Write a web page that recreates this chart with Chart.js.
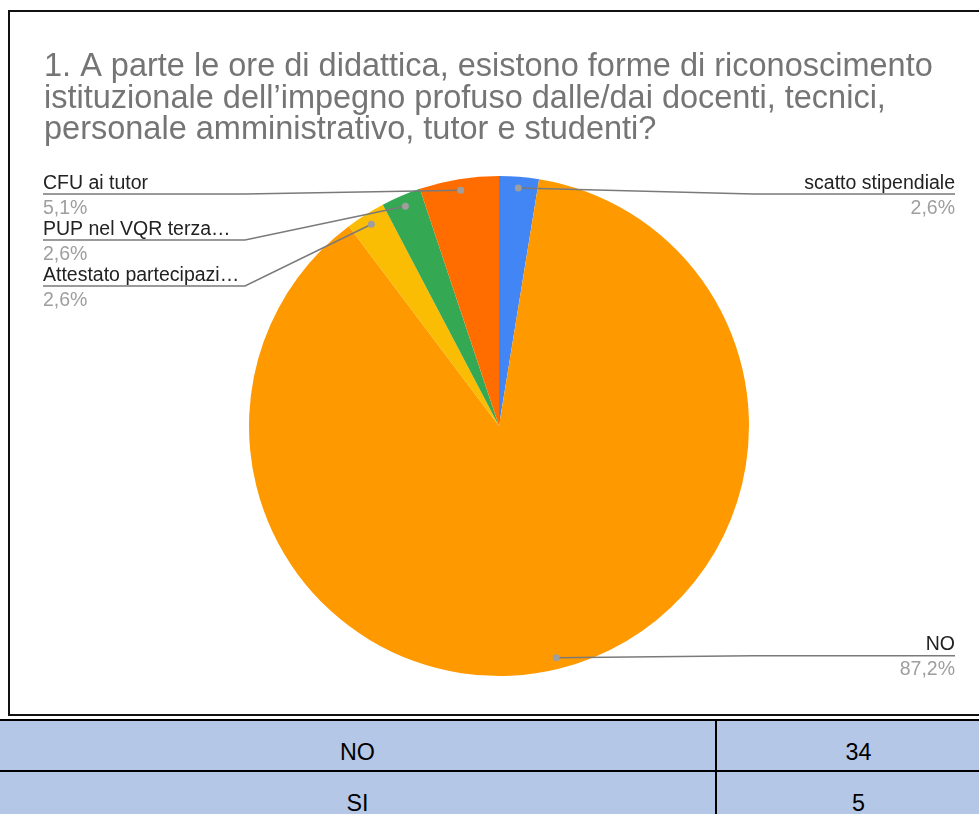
<!DOCTYPE html>
<html>
<head>
<meta charset="utf-8">
<script src="https://cdn.jsdelivr.net/npm/chart.js@4.4.1/dist/chart.umd.min.js"></script>
<style>
  html, body { margin: 0; padding: 0; background: #fff; overflow: hidden; width: 979px; height: 814px; }
  #box { position: absolute; left: 8px; top: 10px; width: 978px; height: 702px; border: 2px solid #111; }
  #tbl { position: absolute; left: 0; top: 719px; width: 1000px; height: 95px; background: #000; }
  .cell { position: absolute; background: #b4c7e7; font: 23.3px "Liberation Sans", Arial, sans-serif; color: #000;
          text-align: center; line-height: 26px; padding-top: 18px; box-sizing: border-box; }
</style>
</head>
<body>
<div id="box"><canvas id="pie"></canvas></div>
<div id="tbl"></div>
<script>
// ==========================================
// DATI
// ==========================================
const titleLines = [
  '1. A parte le ore di didattica, esistono forme di riconoscimento',
  'istituzionale dell\u2019impegno profuso dalle/dai docenti, tecnici,',
  'personale amministrativo, tutor e studenti?'
];
const sliceLabels = ['scatto stipendiale', 'NO', 'Attestato partecipazi\u2026', 'PUP nel VQR terza\u2026', 'CFU ai tutor'];
const sliceValues = [1, 34, 1, 1, 2];
const sliceColors = ['#4285f4', '#ff9900', '#fbbc04', '#34a853', '#ff6d01'];

const tableLabels = ['NO', 'SI'];
const tableCounts = [34, 5];

const FONT = '"Liberation Sans", Arial, sans-serif';

// ==========================================
// ETICHETTE CON LINEE GUIDA
// ==========================================
const leaderLabels = {
  id: 'leaderLabels',
  afterDatasetsDraw(chart) {
    const ctx = chart.ctx;
    const meta = chart.getDatasetMeta(0);
    const total = sliceValues.reduce((a, b) => a + b, 0);
    const leftX = 33, rightX = 945, elbow = 202, gap = 46;

    const items = meta.data.map((arc, i) => {
      const p = arc.getProps(['x', 'y', 'startAngle', 'endAngle', 'outerRadius'], true);
      const mid = (p.startAngle + p.endAngle) / 2;
      const r = p.outerRadius * 0.955;
      return {
        i,
        dx: p.x + Math.cos(mid) * r,
        dy: p.y + Math.sin(mid) * r,
        side: Math.cos(mid) >= 0 ? 'right' : 'left',
        top: p.y - p.outerRadius
      };
    });

    ['left', 'right'].forEach(side => {
      const group = items.filter(it => it.side === side).sort((a, b) => a.dy - b.dy);
      let prev = -Infinity;
      group.forEach(it => {
        let u = Math.max(it.dy - 2, it.top + 18);
        u = Math.max(u, prev + gap);
        prev = u;
        it.u = u;
      });
    });

    ctx.save();
    items.forEach(it => {
      const isLeft = it.side === 'left';
      const edge = isLeft ? leftX : rightX;
      const ex = isLeft ? leftX + elbow : rightX - elbow;

      ctx.strokeStyle = '#7a7a7a';
      ctx.lineWidth = 1.5;
      ctx.beginPath();
      ctx.moveTo(it.dx, it.dy);
      ctx.lineTo(ex, it.u);
      ctx.lineTo(edge, it.u);
      ctx.stroke();

      ctx.fillStyle = '#9e9e9e';
      ctx.beginPath();
      ctx.arc(it.dx, it.dy, 3.5, 0, Math.PI * 2);
      ctx.fill();

      ctx.textAlign = isLeft ? 'left' : 'right';
      ctx.textBaseline = 'alphabetic';
      ctx.font = '19.5px ' + FONT;
      ctx.fillStyle = '#222';
      ctx.fillText(sliceLabels[it.i], edge, it.u - 5.5);
      ctx.fillStyle = '#9e9e9e';
      const pct = (sliceValues[it.i] / total * 100).toFixed(1).replace('.', ',') + '%';
      ctx.fillText(pct, edge, it.u + 19.5);
    });
    ctx.restore();
  }
};

// ==========================================
// GRAFICO A TORTA
// ==========================================
const canvas = document.getElementById('pie');
canvas.width = 978;
canvas.height = 702;

new Chart(canvas.getContext('2d'), {
  type: 'pie',
  data: {
    labels: sliceLabels,
    datasets: [{
      data: sliceValues,
      backgroundColor: sliceColors,
      borderWidth: 0,
      radius: 250
    }]
  },
  options: {
    responsive: false,
    animation: false,
    layout: { padding: { left: 34, right: 34, top: 0, bottom: 13 } },
    plugins: {
      legend: { display: false },
      tooltip: { enabled: false },
      title: {
        display: true,
        text: titleLines,
        align: 'start',
        color: '#757575',
        font: { family: FONT, size: 32.5, weight: 'normal', lineHeight: '31.5px' },
        padding: { top: 39.5, bottom: 5 }
      }
    }
  },
  plugins: [leaderLabels]
});

// ==========================================
// TABELLA
// ==========================================
const tbl = document.getElementById('tbl');
const rowTops = [2, 53];
const rowHeights = [49, 60];
tableLabels.forEach((lab, r) => {
  const c1 = document.createElement('div');
  c1.className = 'cell';
  c1.style.cssText = `left:0;top:${rowTops[r]}px;width:715px;height:${rowHeights[r]}px;`;
  c1.textContent = lab;
  tbl.appendChild(c1);

  const c2 = document.createElement('div');
  c2.className = 'cell';
  c2.style.cssText = `left:717px;top:${rowTops[r]}px;width:283px;height:${rowHeights[r]}px;`;
  c2.textContent = tableCounts[r];
  tbl.appendChild(c2);
});
</script>
</body>
</html>
